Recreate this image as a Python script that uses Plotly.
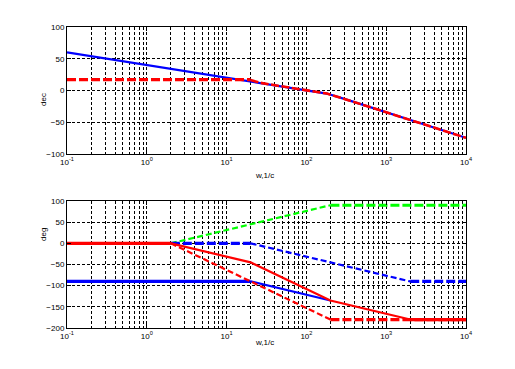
import plotly.graph_objects as go

# ---------------- data ----------------
# Top subplot: magnitude, dB
mag_blue_w = [0.1, 1, 10, 26, 47, 101, 180, 320, 690, 1120, 2190, 4740, 10000]
mag_blue_db = [60, 40, 20, 12.3, 6.9, 0.5, -4.8, -14.4, -27.7, -35.6, -47.3, -60.6, -74.5]
mag_red_flat_w = [0.1, 20]
mag_red_flat_db = [17, 17]
mag_red_w = [20, 26, 47, 101, 180, 320, 690, 1120, 2190, 4740, 10000]
mag_red_db = [16.5, 12.3, 6.9, 0.5, -4.8, -14.4, -27.7, -35.6, -47.3, -60.6, -74.5]

# Bottom subplot: phase, deg
ph_blue_flat_w = [0.1, 20]
ph_blue_flat = [-90, -90]
ph_blue_slope_w = [20, 200]
ph_blue_slope = [-90, -135]

ph_green_slope_w = [2, 200]
ph_green_slope = [0, 90]
ph_green_flat_w = [200, 10000]
ph_green_flat = [90, 90]

ph_bdash_flat1_w = [2, 20]
ph_bdash_flat1 = [0, 0]
ph_bdash_slope_w = [20, 2000]
ph_bdash_slope = [0, -90]
ph_bdash_flat2_w = [2000, 10000]
ph_bdash_flat2 = [-90, -90]

ph_rdash_slope_w = [2, 200]
ph_rdash_slope = [0, -180]
ph_rdash_flat_w = [200, 10000]
ph_rdash_flat = [-180, -180]

ph_red_flat1_w = [0.1, 2]
ph_red_flat1 = [0, 0]
ph_red_slope_w = [2, 20, 200, 2000]
ph_red_slope = [0, -45, -135, -180]
ph_red_flat2_w = [2000, 10000]
ph_red_flat2 = [-180, -180]

x_tickvals = [0.1, 1, 10, 100, 1000, 10000]
x_ticktext = ["10<sup>-1</sup>", "10<sup>0</sup>", "10<sup>1</sup>",
              "10<sup>2</sup>", "10<sup>3</sup>", "10<sup>4</sup>"]
top_yticks = [-100, -50, 0, 50, 100]
bot_yticks = [-200, -150, -100, -50, 0, 50, 100]
x_label = "w,1/c"
top_ylabel = "dec"
bot_ylabel = "deg"

minor_vals = [m * 10 ** k for k in range(-1, 4) for m in range(2, 10)]

BLUE = "#0000FF"
RED = "#FF0000"
GREEN = "#00FF00"
THICK = 3.2
THIN = 2.2
DASH_THICK = "9px,3px"
DASH_THIN = "6px,3px"
GRID_DASH = "3px,2px"
FONT = "Arial, 'Liberation Sans', sans-serif"

fig = go.Figure()


def add(x, y, color, width, dash, xa, ya):
    fig.add_trace(go.Scatter(x=x, y=y, mode="lines", xaxis=xa, yaxis=ya,
                             line=dict(color=color, width=width, dash=dash),
                             showlegend=False, hoverinfo="skip"))


# top
add(mag_blue_w, mag_blue_db, BLUE, THIN, "solid", "x", "y")
add(mag_red_flat_w, mag_red_flat_db, RED, THICK, DASH_THICK, "x", "y")
add(mag_red_w, mag_red_db, RED, 2.6, "8px,2.5px", "x", "y")

# bottom
add(ph_blue_flat_w, ph_blue_flat, BLUE, THICK, "solid", "x2", "y2")
add(ph_blue_slope_w, ph_blue_slope, BLUE, THIN, "solid", "x2", "y2")
add(ph_green_slope_w, ph_green_slope, GREEN, THIN, DASH_THIN, "x2", "y2")
add(ph_green_flat_w, ph_green_flat, GREEN, THICK, DASH_THICK, "x2", "y2")
add(ph_bdash_flat1_w, ph_bdash_flat1, BLUE, THICK, DASH_THICK, "x2", "y2")
add(ph_bdash_slope_w, ph_bdash_slope, BLUE, THIN, DASH_THIN, "x2", "y2")
add(ph_bdash_flat2_w, ph_bdash_flat2, BLUE, THICK, DASH_THICK, "x2", "y2")
add(ph_rdash_slope_w, ph_rdash_slope, RED, THIN, DASH_THIN, "x2", "y2")
add(ph_rdash_flat_w, ph_rdash_flat, RED, THICK, DASH_THICK, "x2", "y2")
add(ph_red_flat1_w, ph_red_flat1, RED, THICK, "solid", "x2", "y2")
add(ph_red_slope_w, ph_red_slope, RED, THIN, "solid", "x2", "y2")
add(ph_red_flat2_w, ph_red_flat2, RED, THICK, "solid", "x2", "y2")


def xaxis(anchor):
    return dict(type="log", range=[-1, 4], domain=[0, 1], anchor=anchor,
                tickvals=x_tickvals, ticktext=x_ticktext,
                ticks="inside", ticklen=4, tickcolor="black",
                showline=True, linecolor="black", linewidth=1, mirror="ticks",
                showgrid=True, gridcolor="black", gridwidth=1, griddash=GRID_DASH,
                minor=dict(tickvals=minor_vals, showgrid=True, gridcolor="black",
                           gridwidth=1, griddash=GRID_DASH, ticks="inside",
                           ticklen=2, tickcolor="black"),
                zeroline=False, fixedrange=True,
                tickfont=dict(family=FONT, size=8, color="black"))


def yaxis(anchor, domain, rng, ticks):
    return dict(range=rng, domain=domain, anchor=anchor, tickvals=ticks,
                ticks="inside", ticklen=4, tickcolor="black",
                showline=True, linecolor="black", linewidth=1, mirror="ticks",
                showgrid=True, gridcolor="black", gridwidth=1, griddash=GRID_DASH,
                zeroline=False, fixedrange=True,
                tickfont=dict(family=FONT, size=8, color="black"))


# page has an 8px body margin: figure sized so that it sits inside the window
OFF = 8
W, H = 515 - 2 * OFF, 369 - 2 * OFF
# target window pixels of the plot area: x 67..466, y 27..328
L = 67 - OFF
T = 27 - OFF
R = W - (466 - OFF)
B = H - (328 - OFF)
pw, ph = W - L - R, H - T - B


def px(xw):
    return (xw - OFF - L) / pw


def py(yw):
    return (H - B - (yw - OFF)) / ph


fig.update_layout(
    width=W, height=H,
    margin=dict(l=L, r=R, t=T, b=B),
    paper_bgcolor="white", plot_bgcolor="white",
    xaxis=xaxis("y"),
    yaxis=yaxis("x", [py(154), 1], [-100, 100], top_yticks),
    xaxis2=xaxis("y2"),
    yaxis2=yaxis("x2", [0, py(201)], [-200, 100], bot_yticks),
    annotations=[
        dict(text=x_label, x=px(264), y=py(175), xref="paper", yref="paper",
             showarrow=False, font=dict(family=FONT, size=8, color="black")),
        dict(text=x_label, x=px(264), y=py(349), xref="paper", yref="paper",
             showarrow=False, font=dict(family=FONT, size=8, color="black")),
        dict(text=top_ylabel, x=px(37), y=py(91), xref="paper", yref="paper",
             showarrow=False, textangle=-90,
             font=dict(family=FONT, size=8, color="black")),
        dict(text=bot_ylabel, x=px(37), y=py(243), xref="paper", yref="paper",
             showarrow=False, textangle=-90,
             font=dict(family=FONT, size=8, color="black")),
    ],
)

fig.write_html("out.html")
